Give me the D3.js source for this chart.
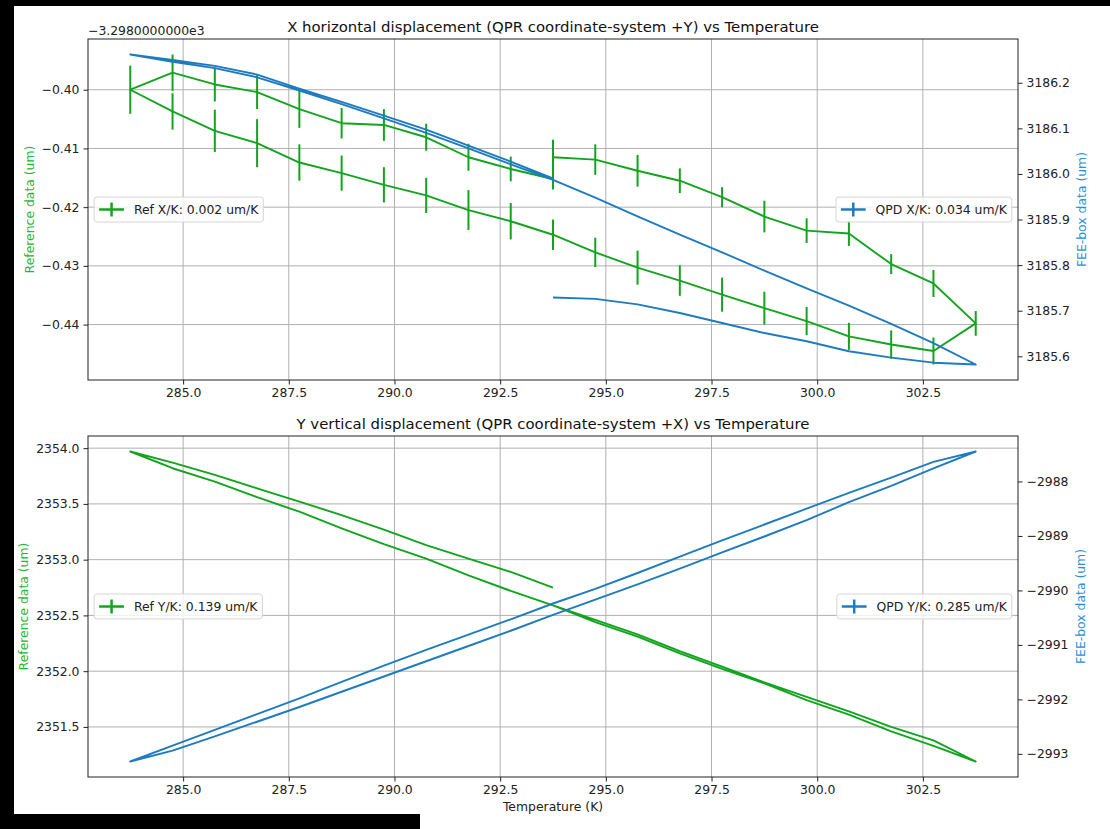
<!DOCTYPE html>
<html>
<head>
<meta charset="utf-8">
<script src="https://d3js.org/d3.v7.min.js"></script>
<style>
body { margin: 0; background: #fff; }
svg text { font-family: "DejaVu Sans", sans-serif; }
</style>
</head>
<body>
<svg id="chart" width="1110" height="829"></svg>
<script>
// Temperature run: cool 293.75 -> 283.75, heat to 303.75, cool back to 293.75
var temps = [293.75, 292.75, 291.75, 290.75, 289.75, 288.75, 287.75, 286.75, 285.75, 284.75, 283.75,
    284.75, 285.75, 286.75, 287.75, 288.75, 289.75, 290.75, 291.75, 292.75, 293.75,
    294.75, 295.75, 296.75, 297.75, 298.75, 299.75, 300.75, 301.75, 302.75, 303.75,
    302.75, 301.75, 300.75, 299.75, 298.75, 297.75, 296.75, 295.75, 294.75, 293.75];

// X: reference data (um) with errors, and QPD / FEE-box data (um)
var refX = [-3298.4152, -3298.4135, -3298.4115, -3298.4081, -3298.4060, -3298.4057, -3298.4033, -3298.4004, -3298.3991, -3298.3971, -3298.4000,
    -3298.4037, -3298.4070, -3298.4091, -3298.4124, -3298.4142, -3298.4162, -3298.4180, -3298.4205, -3298.4224, -3298.4247,
    -3298.4277, -3298.4303, -3298.4325, -3298.4349, -3298.4372, -3298.4394, -3298.4420, -3298.4434, -3298.4445, -3298.4398,
    -3298.4330, -3298.4297, -3298.4245, -3298.4240, -3298.4216, -3298.4183, -3298.4155, -3298.4138, -3298.4119, -3298.4115];
var refXErr = [0.0018, 0.0021, 0.0023, 0.0023, 0.0027, 0.0026, 0.0032, 0.0029, 0.0029, 0.0031, 0.0041,
    0.0031, 0.0036, 0.0041, 0.0031, 0.0030, 0.0030, 0.0030, 0.0034, 0.0031, 0.0026,
    0.0025, 0.0029, 0.0026, 0.0029, 0.0028, 0.0024, 0.0023, 0.0024, 0.0023, 0.0021,
    0.0023, 0.0017, 0.0021, 0.0021, 0.0027, 0.0017, 0.0021, 0.0027, 0.0026, 0.0030];
var qpdX = [3185.990, 3186.027, 3186.062, 3186.097, 3186.128, 3186.158, 3186.187, 3186.218, 3186.237, 3186.250, 3186.262,
    3186.246, 3186.232, 3186.212, 3186.183, 3186.153, 3186.122, 3186.090, 3186.056, 3186.021, 3185.987,
    3185.948, 3185.907, 3185.867, 3185.828, 3185.788, 3185.749, 3185.711, 3185.671, 3185.629, 3185.582,
    3185.586, 3185.597, 3185.611, 3185.633, 3185.651, 3185.673, 3185.695, 3185.714, 3185.726, 3185.729];

// Y: reference data (um) and QPD / FEE-box data (um)
var refY = [2352.75, 2352.89, 2353.01, 2353.13, 2353.27, 2353.40, 2353.52, 2353.64, 2353.76, 2353.87, 2353.97,
    2353.82, 2353.70, 2353.56, 2353.43, 2353.28, 2353.14, 2353.01, 2352.86, 2352.72, 2352.59,
    2352.44, 2352.31, 2352.16, 2352.02, 2351.89, 2351.74, 2351.61, 2351.46, 2351.33, 2351.19,
    2351.38, 2351.50, 2351.64, 2351.77, 2351.90, 2352.04, 2352.18, 2352.33, 2352.46, 2352.59];
var qpdY = [-2990.24, -2990.53, -2990.81, -2991.09, -2991.38, -2991.68, -2991.98, -2992.27, -2992.56, -2992.85, -2993.14,
    -2992.94, -2992.68, -2992.41, -2992.14, -2991.86, -2991.58, -2991.30, -2991.02, -2990.74, -2990.45,
    -2990.17, -2989.89, -2989.60, -2989.30, -2989.01, -2988.71, -2988.38, -2988.08, -2987.76, -2987.45,
    -2987.64, -2987.93, -2988.21, -2988.50, -2988.79, -2989.08, -2989.38, -2989.68, -2989.97, -2990.24];

// Ticks
var xTicks = [285.0, 287.5, 290.0, 292.5, 295.0, 297.5, 300.0, 302.5];
var refXTicks = [-3298.44, -3298.43, -3298.42, -3298.41, -3298.40];
var qpdXTicks = [3185.6, 3185.7, 3185.8, 3185.9, 3186.0, 3186.1, 3186.2];
var refYTicks = [2351.5, 2352.0, 2352.5, 2353.0, 2353.5, 2354.0];
var qpdYTicks = [-2993, -2992, -2991, -2990, -2989, -2988];

// Sizing
var width = 1110;
var height = 829;
var plotLeft = 88;
var plotRight = 1018;
var fontSize = 12.4;

var green = "#12a41e";
var greenLabel = "#27b636";
var blue = "#1f7bc0";
var blueLabel = "#2b90d6";

var svg = d3.select("#chart");
svg.append("rect").attr("width", width).attr("height", height).attr("fill", "#fff");

// black border of the screenshot
svg.append("rect").attr("x", 0).attr("y", 0).attr("width", width).attr("height", 6).attr("fill", "#000");
svg.append("rect").attr("x", 0).attr("y", 0).attr("width", 14).attr("height", height).attr("fill", "#000");
svg.append("rect").attr("x", 0).attr("y", 814).attr("width", 420).attr("height", 15).attr("fill", "#000");

// matplotlib style 5% margins
function pad(ext) {
    var d = (ext[1] - ext[0]) * 0.05;
    return [ext[0] - d, ext[1] + d];
}

var x = d3.scaleLinear().domain(pad(d3.extent(temps))).range([plotLeft, plotRight]);

function legend(g, xPos, yCenter, label, color, alignRight) {
    var lg = g.append("g");
    var txt = lg.append("text").attr("font-size", fontSize).attr("fill", "#222").text(label);
    var tw = txt.node().getComputedTextLength();
    var bp = 0.4 * fontSize, hl = 2 * fontSize, hp = 0.8 * fontSize;
    var w = bp + hl + hp + tw + bp;
    var h = 25;
    var x0 = alignRight ? xPos - w : xPos;
    lg.insert("rect", "text")
        .attr("x", x0).attr("y", yCenter - h / 2).attr("width", w).attr("height", h)
        .attr("rx", 3).attr("fill", "#fff").attr("fill-opacity", 0.8)
        .attr("stroke", "#d6d6d6").attr("stroke-width", 1);
    lg.append("line").attr("x1", x0 + bp).attr("x2", x0 + bp + hl)
        .attr("y1", yCenter).attr("y2", yCenter)
        .attr("stroke", color).attr("stroke-width", 2.5);
    lg.append("line").attr("x1", x0 + bp + hl / 2).attr("x2", x0 + bp + hl / 2)
        .attr("y1", yCenter - 7).attr("y2", yCenter + 7)
        .attr("stroke", color).attr("stroke-width", 2.5);
    txt.attr("x", x0 + bp + hl + hp).attr("y", yCenter + fontSize * 0.36);
}

function drawPanel(p) {
    var g = svg.append("g");
    var leftExt = p.leftErr
        ? [d3.min(p.left, (d, i) => d - p.leftErr[i]), d3.max(p.left, (d, i) => d + p.leftErr[i])]
        : d3.extent(p.left);
    var yL = d3.scaleLinear().domain(pad(leftExt)).range([p.bottom, p.top]);
    var yR = d3.scaleLinear().domain(pad(d3.extent(p.right))).range([p.bottom, p.top]);

    // grid
    g.append("g").selectAll("line").data(xTicks).join("line")
        .attr("x1", d => x(d)).attr("x2", d => x(d))
        .attr("y1", p.top).attr("y2", p.bottom)
        .attr("stroke", "#b0b0b0").attr("stroke-width", 1);
    g.append("g").selectAll("line").data(p.leftTicks).join("line")
        .attr("x1", plotLeft).attr("x2", plotRight)
        .attr("y1", d => yL(d)).attr("y2", d => yL(d))
        .attr("stroke", "#b0b0b0").attr("stroke-width", 1);

    // reference series
    var lineL = d3.line().x(d => x(d[0])).y(d => yL(d[1]));
    g.append("path").datum(temps.map((t, i) => [t, p.left[i]]))
        .attr("d", lineL).attr("fill", "none")
        .attr("stroke", green).attr("stroke-width", 1.9).attr("stroke-linejoin", "round");
    if (p.leftErr) {
        g.append("g").selectAll("line").data(temps).join("line")
            .attr("x1", d => x(d)).attr("x2", d => x(d))
            .attr("y1", (d, i) => yL(p.left[i] - p.leftErr[i]))
            .attr("y2", (d, i) => yL(p.left[i] + p.leftErr[i]))
            .attr("stroke", green).attr("stroke-width", 2);
    }
    legend(g, plotLeft + 6.2, (p.top + p.bottom) / 2, p.leftLegend, green, false);

    // FEE-box series (twin axis)
    var lineR = d3.line().x(d => x(d[0])).y(d => yR(d[1]));
    g.append("path").datum(temps.map((t, i) => [t, p.right[i]]))
        .attr("d", lineR).attr("fill", "none")
        .attr("stroke", blue).attr("stroke-width", 1.9).attr("stroke-linejoin", "round");
    legend(g, plotRight - 6.2, (p.top + p.bottom) / 2, p.rightLegend, blue, true);

    // axes
    var axB = g.append("g").attr("transform", `translate(0,${p.bottom})`)
        .call(d3.axisBottom(x).tickValues(xTicks).tickFormat(d3.format(".1f"))
            .tickSizeOuter(0).tickSize(4.5).tickPadding(4));
    var axL = g.append("g").attr("transform", `translate(${plotLeft},0)`)
        .call(d3.axisLeft(yL).tickValues(p.leftTicks).tickFormat(p.leftFmt)
            .tickSizeOuter(0).tickSize(4.5).tickPadding(4));
    var axR = g.append("g").attr("transform", `translate(${plotRight},0)`)
        .call(d3.axisRight(yR).tickValues(p.rightTicks).tickFormat(p.rightFmt)
            .tickSizeOuter(0).tickSize(4.5).tickPadding(4));
    [axB, axL, axR].forEach(a => {
        a.select(".domain").remove();
        a.selectAll("text").attr("font-size", fontSize).attr("fill", "#222")
            .attr("font-family", "DejaVu Sans, sans-serif");
        a.selectAll("line").attr("stroke", "#222");
    });

    g.append("rect").attr("x", plotLeft).attr("y", p.top)
        .attr("width", plotRight - plotLeft).attr("height", p.bottom - p.top)
        .attr("fill", "none").attr("stroke", "#222").attr("stroke-width", 1);

    // axis labels, placed next to the tick labels
    var lb = axL.node().getBBox();
    var lx = lb.x + plotLeft - 5 - 7;
    g.append("text").attr("transform", `translate(${lx},${(p.top + p.bottom) / 2}) rotate(-90)`)
        .attr("text-anchor", "middle").attr("dy", "0.35em")
        .attr("font-size", fontSize).attr("fill", greenLabel).text("Reference data (um)");
    var rb = axR.node().getBBox();
    var rx = plotRight + rb.x + rb.width + 5 + 7;
    g.append("text").attr("transform", `translate(${rx},${(p.top + p.bottom) / 2}) rotate(-90)`)
        .attr("text-anchor", "middle").attr("dy", "0.35em")
        .attr("font-size", fontSize).attr("fill", blueLabel).text("FEE-box data (um)");

    g.append("text").attr("x", (plotLeft + plotRight) / 2).attr("y", p.top - 7.5)
        .attr("text-anchor", "middle").attr("font-size", 14.9).attr("fill", "#111")
        .text(p.title);

    if (p.offsetText) {
        g.append("text").attr("x", plotLeft).attr("y", p.top - 4.5)
            .attr("font-size", fontSize).attr("fill", "#222").text(p.offsetText);
    }
    if (p.xLabel) {
        g.append("text").attr("x", (plotLeft + plotRight) / 2).attr("y", 811)
            .attr("text-anchor", "middle").attr("font-size", fontSize).attr("fill", "#222")
            .text(p.xLabel);
    }
}

drawPanel({
    top: 39, bottom: 380,
    title: "X horizontal displacement (QPR coordinate-system +Y) vs Temperature",
    left: refX, leftErr: refXErr, right: qpdX,
    leftTicks: refXTicks, rightTicks: qpdXTicks,
    leftFmt: d => d3.format(".2f")(d + 3298),
    rightFmt: d3.format(".1f"),
    offsetText: "\u22123.2980000000e3",
    leftLegend: "Ref X/K: 0.002 um/K",
    rightLegend: "QPD X/K: 0.034 um/K"
});

drawPanel({
    top: 436, bottom: 777,
    title: "Y vertical displacement (QPR coordinate-system +X) vs Temperature",
    left: refY, right: qpdY,
    leftTicks: refYTicks, rightTicks: qpdYTicks,
    leftFmt: d3.format(".1f"),
    rightFmt: d3.format("d"),
    leftLegend: "Ref Y/K: 0.139 um/K",
    rightLegend: "QPD Y/K: 0.285 um/K",
    xLabel: "Temperature (K)"
});
</script>
</body>
</html>
